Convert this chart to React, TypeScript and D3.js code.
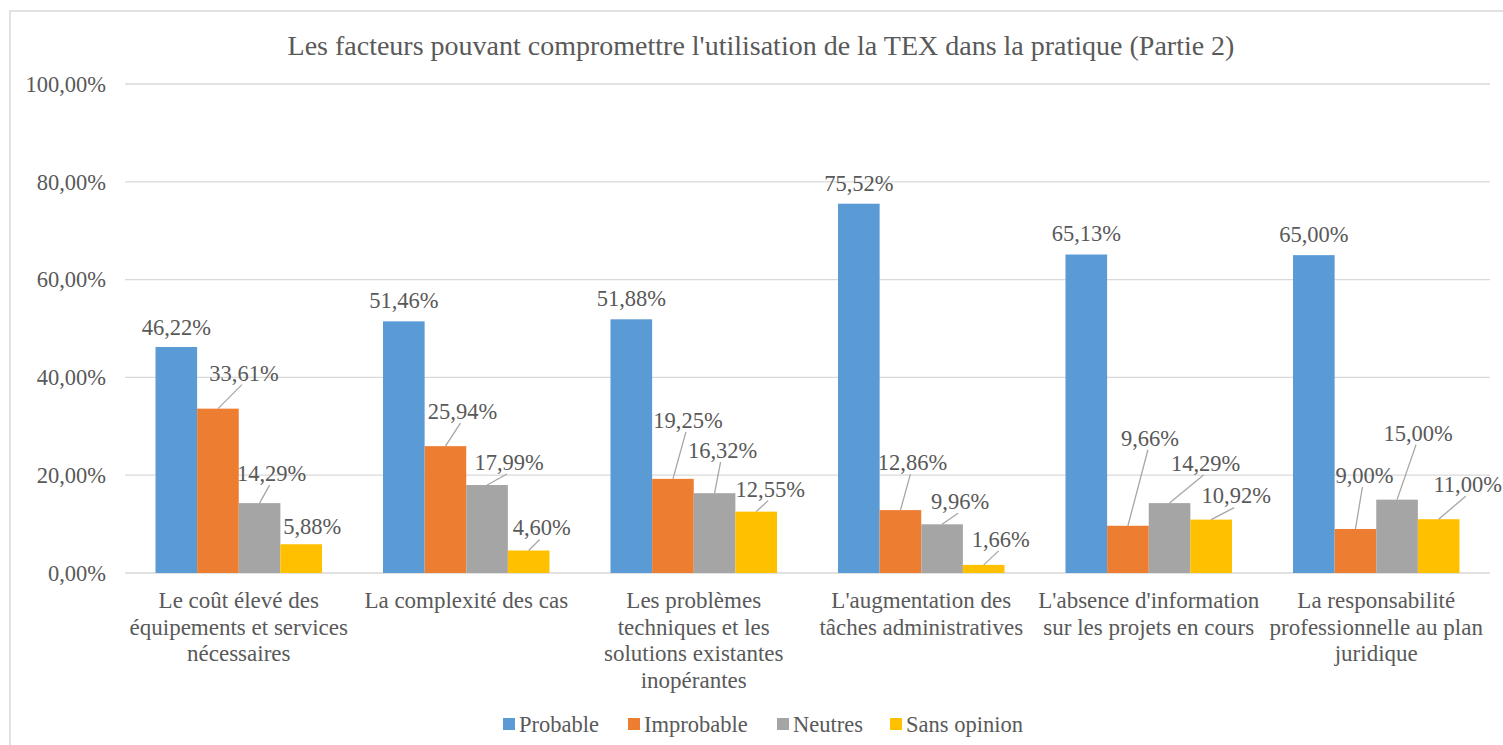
import * as d3 from 'd3';

const categories = [
  'Le coût élevé des\néquipements et services\nnécessaires',
  'La complexité des cas',
  'Les problèmes\ntechniques et les\nsolutions existantes\ninopérantes',
  "L'augmentation des\ntâches administratives",
  "L'absence d'information\nsur les projets en cours",
  'La responsabilité\nprofessionnelle au plan\njuridique',
];

const seriesNames = ['Probable', 'Improbable', 'Neutres', 'Sans opinion'];
const seriesColors = ['#5B9BD5', '#ED7D31', '#A5A5A5', '#FFC000'];

const probable = [46.22, 51.46, 51.88, 75.52, 65.13, 65.0];
const improbable = [33.61, 25.94, 19.25, 12.86, 9.66, 9.0];
const neutres = [14.29, 17.99, 16.32, 9.96, 14.29, 15.0];
const sansOpinion = [5.88, 4.6, 12.55, 1.66, 10.92, 11.0];

const yTicks = [0, 20, 40, 60, 80, 100];

// where Excel moved each data label, relative to the bar top (dx, dy of the label centre)
const labelShift: [number, number][][] = [
  [[0, -20], [26, -36], [12, -30], [11, -18]],
  [[0, -21], [17, -35], [22, -23], [13, -23]],
  [[0, -21], [15, -59], [8, -43], [14, -23]],
  [[0, -21], [12, -48], [18, -23], [17, -26]],
  [[0, -21], [22, -88], [36, -40], [25, -24]],
  [[0, -21], [9, -54], [21, -67], [29, -35]],
];

const W = 1503;
const H = 745;
const FONT = "'Liberation Serif', 'DejaVu Serif', serif";
const TEXT = '#595959';
const GRID = '#D9D9D9';

const fmt = (v: number) => v.toFixed(2).replace('.', ',') + '%';

export default function App() {
  const values = [probable, improbable, neutres, sansOpinion];
  const margin = { left: 125, right: 13, top: 84, bottom: 173 };

  const x0 = d3
    .scaleBand<number>()
    .domain(d3.range(categories.length))
    .range([margin.left, W - margin.right]);
  const bw = x0.bandwidth();
  const x1 = d3
    .scaleBand<number>()
    .domain(d3.range(seriesNames.length))
    .range([30.5, bw - 30.5]);
  const y = d3
    .scaleLinear()
    .domain([0, 100])
    .range([H - margin.bottom + 1, margin.top]);

  const legendX = [503, 628, 777, 890];

  const txt = { fontFamily: FONT, fill: TEXT };

  return (
    <svg
      width={W}
      height={H}
      style={{ position: 'absolute', left: 0, top: 0, background: '#fff', fontFamily: FONT }}
    >
      <rect x={10} y={11} width={W} height={H} fill="#fff" stroke={GRID} strokeWidth={1.5} />

      <text x={761} y={45} dy="0.35em" textAnchor="middle" fontSize={28} style={txt}>
        Les facteurs pouvant compromettre l'utilisation de la TEX dans la pratique (Partie 2)
      </text>

      {/* grid + y ticks */}
      {yTicks.map((t) => (
        <g key={t}>
          <line
            x1={margin.left}
            x2={W - margin.right}
            y1={y(t)}
            y2={y(t)}
            stroke={GRID}
            strokeWidth={1.3}
          />
          <text x={106} y={y(t)} dy="0.35em" textAnchor="end" fontSize={22.5} style={txt}>
            {fmt(t)}
          </text>
        </g>
      ))}

      {/* bars */}
      {categories.map((_, ci) => (
        <g key={ci} transform={`translate(${x0(ci)},0)`}>
          {values.map((vals, si) => (
            <rect
              key={si}
              x={x1(si)}
              y={y(vals[ci])}
              width={x1.bandwidth()}
              height={y(0) - y(vals[ci])}
              fill={seriesColors[si]}
            />
          ))}
        </g>
      ))}

      {/* data labels */}
      {categories.map((_, ci) =>
        values.map((vals, si) => {
          const cx = (x0(ci) as number) + (x1(si) as number) + x1.bandwidth() / 2;
          const top = y(vals[ci]);
          const [dx, dy] = labelShift[ci][si];
          const lx = cx + dx;
          const ly = top + dy;
          const ex = lx - 2;
          const ey = ly + 12;
          const len = Math.hypot(ex - cx, ey - top);
          return (
            <g key={`${ci}-${si}`}>
              {si > 0 && len > 14 && (
                <line x1={cx} y1={top} x2={ex} y2={ey} stroke="#A6A6A6" strokeWidth={1.3} />
              )}
              <text x={lx} y={ly} dy="0.35em" textAnchor="middle" fontSize={22.5} style={txt}>
                {fmt(vals[ci])}
              </text>
            </g>
          );
        })
      )}

      {/* category labels */}
      {categories.map((c, ci) => (
        <text
          key={ci}
          x={(x0(ci) as number) + bw / 2}
          y={600}
          textAnchor="middle"
          fontSize={23}
          style={txt}
        >
          {c.split('\n').map((ln, li) => (
            <tspan key={li} x={(x0(ci) as number) + bw / 2} dy={li === 0 ? '0.35em' : 26.7}>
              {ln}
            </tspan>
          ))}
        </text>
      ))}

      {/* legend */}
      {seriesNames.map((s, si) => (
        <g key={s}>
          <rect x={legendX[si]} y={718} width={12} height={12} fill={seriesColors[si]} />
          <text x={legendX[si] + 16} y={724} dy="0.35em" fontSize={22.5} style={txt}>
            {s}
          </text>
        </g>
      ))}
    </svg>
  );
}
